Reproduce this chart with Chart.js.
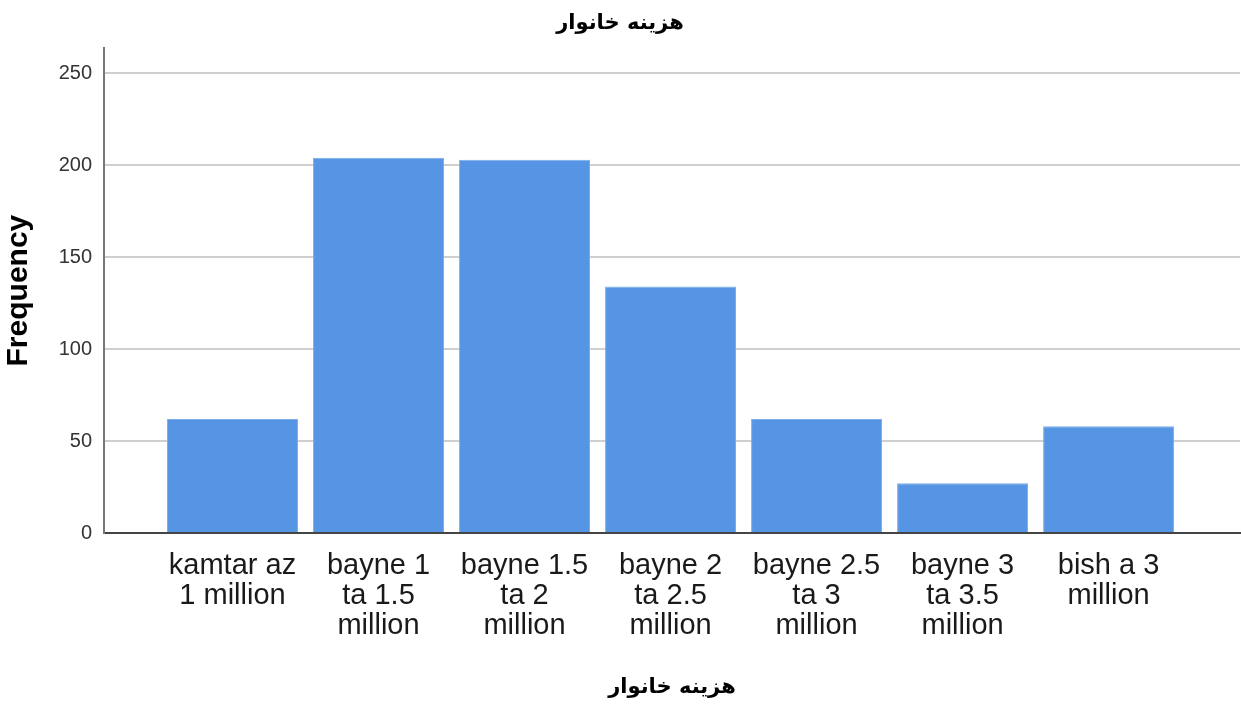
<!DOCTYPE html>
<html>
<head>
<meta charset="utf-8">
<script src="https://cdn.jsdelivr.net/npm/chart.js@4/dist/chart.umd.min.js"></script>
<style>
  html, body { margin: 0; padding: 0; background: #fff; }
  #wrap { width: 1241px; height: 707px; }
</style>
</head>
<body>
<div id="wrap"><canvas id="freqChart" width="1241" height="707"></canvas></div>
<script>
// categories (multi-line tick labels) and their counts
const categories = [
  ['kamtar az', '1 million'],
  ['bayne 1', 'ta 1.5', 'million'],
  ['bayne 1.5', 'ta 2', 'million'],
  ['bayne 2', 'ta 2.5', 'million'],
  ['bayne 2.5', 'ta 3', 'million'],
  ['bayne 3', 'ta 3.5', 'million'],
  ['bish a 3', 'million']
];
const frequency = [62, 204, 203, 134, 62, 27, 58];
const yTicks = [0, 50, 100, 150, 200, 250];
const titleText = 'هزینه خانوار';

const points = frequency.map((v, i) => ({ x: i, y: v }));

const ctx = document.getElementById('freqChart');
window.freqChartInstance = new Chart(ctx, {
  type: 'bar',
  data: {
    datasets: [{
      label: 'Frequency',
      data: points,
      backgroundColor: '#5595e3',
      borderColor: '#7aaeec',
      borderWidth: 1,
      categoryPercentage: 1,
      barPercentage: 0.897
    }]
  },
  options: {
    responsive: false,
    animation: false,
    layout: { padding: { top: 0, right: 1, bottom: 0, left: 0 } },
    plugins: {
      legend: { display: false },
      tooltip: { enabled: false },
      title: {
        display: true,
        text: titleText,
        color: '#000',
        font: { family: 'DejaVu Sans', size: 21, weight: 'bold' },
        padding: { top: 11, bottom: 12 }
      }
    },
    scales: {
      x: {
        type: 'linear',
        offset: false,
        min: -0.88,
        max: 6.9,
        afterBuildTicks: s => { s.ticks = categories.map((c, i) => ({ value: i })); },
        afterFit: s => { s.height = 174; },
        grid: { display: false, drawTicks: false, offset: false },
        border: { color: '#444', width: 2 },
        ticks: {
          autoSkip: false,
          maxRotation: 0,
          padding: 18,
          color: '#1a1a1a',
          font: { family: 'Liberation Sans', size: 29, lineHeight: 1.04 },
          callback: v => categories[v]
        },
        title: {
          display: true,
          text: titleText,
          color: '#000',
          font: { family: 'DejaVu Sans', size: 21, weight: 'bold' },
          padding: { top: 0, bottom: 7 }
        }
      },
      y: {
        min: 0,
        max: 263.6,
        afterBuildTicks: s => { s.ticks = yTicks.map(v => ({ value: v })); },
        afterFit: s => { s.width = 104; },
        grid: { color: '#cfcfcf', lineWidth: 2, drawTicks: false },
        border: { color: '#777', width: 2 },
        ticks: {
          padding: 12,
          color: '#333',
          font: { family: 'Liberation Sans', size: 20 }
        },
        title: {
          display: true,
          text: 'Frequency',
          color: '#000',
          font: { family: 'Liberation Sans', size: 30, weight: 'bold' },
          padding: { top: 1, bottom: 0 }
        }
      }
    }
  }
});
</script>
</body>
</html>
